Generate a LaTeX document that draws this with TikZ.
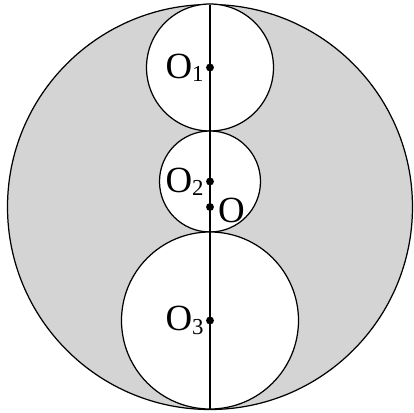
\documentclass[tikz,border=0pt]{standalone}
\usepackage{fontspec}
\setmainfont{Liberation Serif}
\usepackage{xcolor}
\usepackage{tikz}
\usetikzlibrary{positioning}

\definecolor{shade}{RGB}{212,212,212}
\newcommand{\lab}[1]{O\raisebox{-0.2ex}{\fontsize{13}{13}\selectfont #1}}

\tikzset{
  rim/.style={draw=black, line width=0.7pt},
  dot/.style={circle, fill=black, inner sep=0pt, minimum size=4.5pt},
  tag/.style={font=\fontsize{21}{21}\selectfont, inner sep=1pt}
}

\begin{document}
\begin{tikzpicture}[x=0.02cm, y=-0.02cm]

\useasboundingbox (0,0) rectangle (414,413);

\draw[rim, fill=shade] (210,207) circle (202.5);

\draw[rim, fill=white] (210,67.5) circle (63.5);
\draw[rim, fill=white] (210,181.5) circle (50.5);
\draw[rim, fill=white] (210,320.5) circle (88.5);

\coordinate(top) at (210,4.5);
\coordinate(bot) at (210,409.5);
\draw[rim] (top) -- (bot);

\node[dot](o1) at (210,67.5) {};
\node[dot](o2) at (210,181.5) {};
\node[dot](o) at (210,207) {};
\node[dot](o3) at (210,320.5) {};

\node[tag, left=0pt of o1](l1) {\lab{1}};
\node[tag, left=0pt of o2](l2) {\lab{2}};
\node[tag, right=1pt of o, yshift=-2pt](l0) {O};
\node[tag, left=0pt of o3](l3) {\lab{3}};

\end{tikzpicture}
\end{document}
